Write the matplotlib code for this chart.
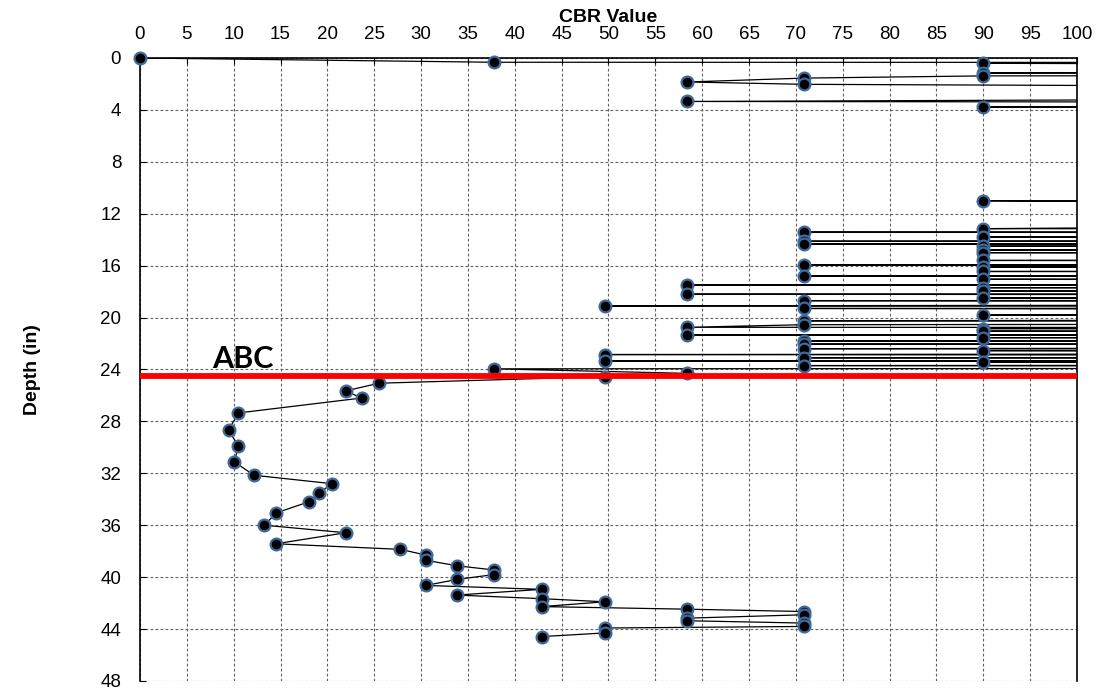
import matplotlib
matplotlib.use("Agg")
import matplotlib.pyplot as plt

plt.rcParams['font.family'] = ['Liberation Sans', 'DejaVu Sans']

# CBR values along the DCP trace (values > 100 are off the chart to the right)
cbr = [0, 37.8, 300, 90, 300, 90, 300, 90, 70.9, 58.4, 70.9, 300, 58.4, 300, 90, 300,
       300, 90, 300, 90, 300, 70.9, 300, 90, 300, 70.9, 300, 70.9, 300, 90, 300, 90,
       300, 90, 300, 90, 300, 70.9, 300, 90, 300, 90, 300, 70.9, 300, 90, 300, 58.4,
       300, 90, 300, 90, 300, 58.4, 300, 90, 300, 70.9, 300, 49.6, 300, 70.9, 300, 90,
       300, 70.9, 300, 70.9, 58.4, 300, 90, 300, 90, 300, 58.4, 300, 90, 300, 70.9,
       300, 70.9, 300, 70.9, 300, 90, 300, 49.6, 300, 70.9, 300, 49.6, 300, 90, 300,
       70.9, 300, 37.8, 58.4, 49.6, 25.5, 21.95, 23.65, 10.5, 9.45, 10.5, 10.07, 12.17,
       20.5, 19.15, 18.0, 14.55, 13.27, 21.95, 14.5, 27.8, 30.5, 30.5, 33.8, 37.8, 37.8,
       33.8, 30.5, 42.9, 33.8, 42.9, 49.6, 42.9, 58.4, 70.9, 70.9, 58.4, 58.4, 70.9,
       70.9, 49.6, 49.6, 42.9]

depth = [0.0, 0.33, 0.37, 0.41, 0.8, 1.15, 1.25, 1.38, 1.55, 1.85, 2.03, 2.7, 3.35, 3.55,
         3.77, 3.9, 10.9, 11.0, 12.1, 13.15, 13.3, 13.42, 13.6, 13.8, 13.95, 14.12, 14.22,
         14.33, 14.4, 14.5, 14.65, 14.8, 14.9, 15.0, 15.3, 15.6, 15.8, 15.95, 16.0, 16.1,
         16.3, 16.45, 16.6, 16.8, 16.9, 17.05, 17.3, 17.5, 17.6, 17.7, 17.8, 17.95, 18.1,
         18.2, 18.35, 18.5, 18.6, 18.7, 18.9, 19.1, 19.2, 19.3, 19.55, 19.8, 20.0, 20.25,
         20.4, 20.55, 20.75, 20.8, 20.85, 20.95, 21.05, 21.2, 21.35, 21.45, 21.55, 21.7,
         21.8, 21.9, 22.05, 22.2, 22.4, 22.5, 22.55, 22.7, 22.85, 23.0, 23.1, 23.2, 23.35,
         23.4, 23.45, 23.6, 23.7, 23.85, 23.95, 24.3, 24.55, 25.06, 25.65, 26.2, 27.35,
         28.67, 29.9, 31.12, 32.15, 32.8, 33.5, 34.2, 35.05, 36.0, 36.58, 37.43, 37.86,
         38.3, 38.7, 39.12, 39.45, 39.8, 40.18, 40.64, 40.94, 41.38, 41.66, 41.9, 42.27,
         42.47, 42.65, 42.9, 43.16, 43.36, 43.54, 43.8, 43.92, 44.3, 44.58]

x_ticks = list(range(0, 101, 5))
y_ticks = list(range(0, 49, 4))
marker_depth = 24.5
marker_label = "ABC"

fig = plt.figure(figsize=(11.04, 6.96), dpi=100)
ax = fig.add_axes([0.1268, 0.0216, 0.8487, 0.8951])

ax.set_xlim(0, 100)
ax.set_ylim(48, 0)
ax.xaxis.tick_top()
ax.xaxis.set_label_position('top')
ax.set_xticks(x_ticks)
ax.set_yticks(y_ticks)
ax.tick_params(axis='x', direction='in', length=4, labelsize=13.5, pad=11)
ax.tick_params(axis='y', direction='in', length=4, labelsize=13.5, pad=13.5)

ax.grid(True, color='#606060', linestyle=(0, (2.5, 2)), linewidth=0.8)
ax.set_axisbelow(True)
ax.spines['bottom'].set_visible(False)
for s in ['top', 'left', 'right']:
    ax.spines[s].set_linewidth(1.2)
    ax.spines[s].set_color('black')

ax.plot(cbr, depth, color='black', lw=0.9, zorder=3)
vis = [(c, d) for c, d in zip(cbr, depth) if c <= 100]
ax.plot([v[0] for v in vis], [v[1] for v in vis], 'o', ms=8.5, mfc='black',
        mec='#41699c', mew=1.6, ls='none', zorder=4, clip_on=False)

ax.axhline(marker_depth, color='#ff0000', lw=4.2, zorder=5)
ax.text(7.7, 23.85, marker_label, fontsize=22, fontweight='bold',
        family=['Lato', 'DejaVu Sans'], va='baseline', ha='left', zorder=6)

ax.set_xlabel('CBR Value', fontsize=14, fontweight='bold', labelpad=3)
ax.set_ylabel('Depth (in)', fontsize=14, fontweight='bold')
ax.yaxis.set_label_coords(-0.106, 0.5)

fig.savefig('out.png', dpi=100)
